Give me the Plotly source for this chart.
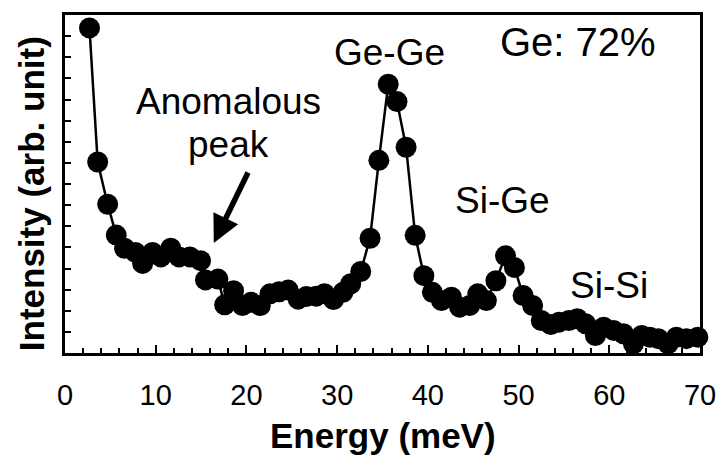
import plotly.graph_objects as go

energy = [2.7, 3.6, 4.7, 5.65, 6.56, 7.76, 8.56, 9.65, 10.57, 11.66, 12.57, 13.77,
          14.94, 15.49, 16.86, 17.6, 18.58, 19.56, 20.5, 21.53, 22.6, 23.6, 24.6,
          25.7, 26.6, 27.7, 28.6, 29.6, 30.65, 31.5, 32.6, 33.63, 34.6, 35.63, 36.6,
          37.6, 38.6, 39.56, 40.5, 41.5, 42.6, 43.5, 44.6, 45.5, 46.45, 47.5, 48.56,
          49.54, 50.5, 51.55, 52.5, 53.55, 54.46, 55.55, 56.47, 57.4, 58.47, 59.38,
          60.47, 61.56, 62.66, 63.57, 64.48, 65.4, 66.48, 67.4, 68.5, 69.76]
intensity = [15.39, 9.04, 7.04, 5.58, 4.96, 4.76, 4.24, 4.76, 4.55, 4.96, 4.55, 4.55,
             4.37, 3.46, 3.50, 2.28, 2.95, 2.25, 2.4, 2.25, 2.8, 2.9, 2.98,
             2.55, 2.67, 2.69, 2.81, 2.53, 2.87, 3.28, 3.86, 5.43, 9.12, 12.72, 11.90,
             9.74, 5.57, 3.66, 2.87, 2.48, 2.64, 2.17, 2.25, 2.8, 2.48, 3.42, 4.6,
             4.05, 2.72, 2.25, 1.54, 1.35, 1.46, 1.54, 1.62, 1.38, 0.83, 1.22,
             1.07, 0.91, 0.44, 0.83, 0.75, 0.68, 0.44, 0.75, 0.68, 0.75]

x_ticks = [0, 10, 20, 30, 40, 50, 60, 70]
y_ticks = list(range(1, 16))

FONT = "Arial, Liberation Sans, sans-serif"
W, H = 728, 458
L, R, T, B = 65, 23, 13, 105
PW, PH = W - L - R, H - T - B


def px(xp):
    return (xp - L) / PW


def py(yp):
    return (H - B - yp) / PH


fig = go.Figure()
fig.add_trace(go.Scatter(
    x=energy, y=intensity, mode="lines+markers",
    line=dict(color="black", width=2.5),
    marker=dict(color="black", size=21, line=dict(width=0)),
    cliponaxis=False, showlegend=False,
))

annos = [
    dict(text="Ge-Ge", x=392, y=51, size=37),
    dict(text="Ge: 72%", x=582, y=40, size=40),
    dict(text="Si-Ge", x=506, y=200, size=37),
    dict(text="Si-Si", x=613, y=285, size=37),
    dict(text="Anomalous", x=230, y=100, size=37),
    dict(text="peak", x=230, y=143, size=37),
]
for a in annos:
    fig.add_annotation(text=a["text"], xref="paper", yref="paper",
                       x=px(a["x"]), y=py(a["y"]), xanchor="center", yanchor="middle",
                       showarrow=False, font=dict(family=FONT, size=a["size"], color="black"))

# arrow
fig.add_annotation(x=16.4, y=5.21, xref="x", yref="y", text="", showarrow=True,
                   ax=35, ay=-72, arrowhead=2, arrowsize=1.0, arrowwidth=5.5,
                   arrowcolor="black")

# axis titles
fig.add_annotation(text="<b>Energy (meV)</b>", xref="paper", yref="paper",
                   x=px(386), y=py(436), xanchor="center", yanchor="middle",
                   showarrow=False, font=dict(family=FONT, size=35, color="black"))
fig.add_annotation(text="<b>Intensity (arb. unit)</b>", xref="paper", yref="paper",
                   x=px(32), y=py(193), xanchor="center", yanchor="middle",
                   textangle=-90, showarrow=False,
                   font=dict(family=FONT, size=35, color="black"))

fig.update_xaxes(range=[0, 70], tickvals=x_ticks, ticktext=[str(v) for v in x_ticks],
                 ticks="inside", ticklen=8, tickwidth=1.5, tickcolor="black",
                 minor=dict(dtick=2, ticks="inside", ticklen=5, tickwidth=1.5, tickcolor="black"),
                 showline=True, linewidth=2.5, linecolor="black", mirror=True,
                 showgrid=False, zeroline=False, ticklabelstandoff=14,
                 tickfont=dict(family=FONT, size=29, color="black"))
fig.update_yaxes(range=[0, 16], tickvals=y_ticks, showticklabels=False,
                 ticks="inside", ticklen=6, tickwidth=1.5, tickcolor="black",
                 showline=True, linewidth=2.5, linecolor="black", mirror=True,
                 showgrid=False, zeroline=False)

fig.update_layout(width=W, height=H, margin=dict(l=L, r=R, t=T, b=B),
                  plot_bgcolor="white", paper_bgcolor="white",
                  font=dict(family=FONT, color="black"))

fig.write_html("out.html")
